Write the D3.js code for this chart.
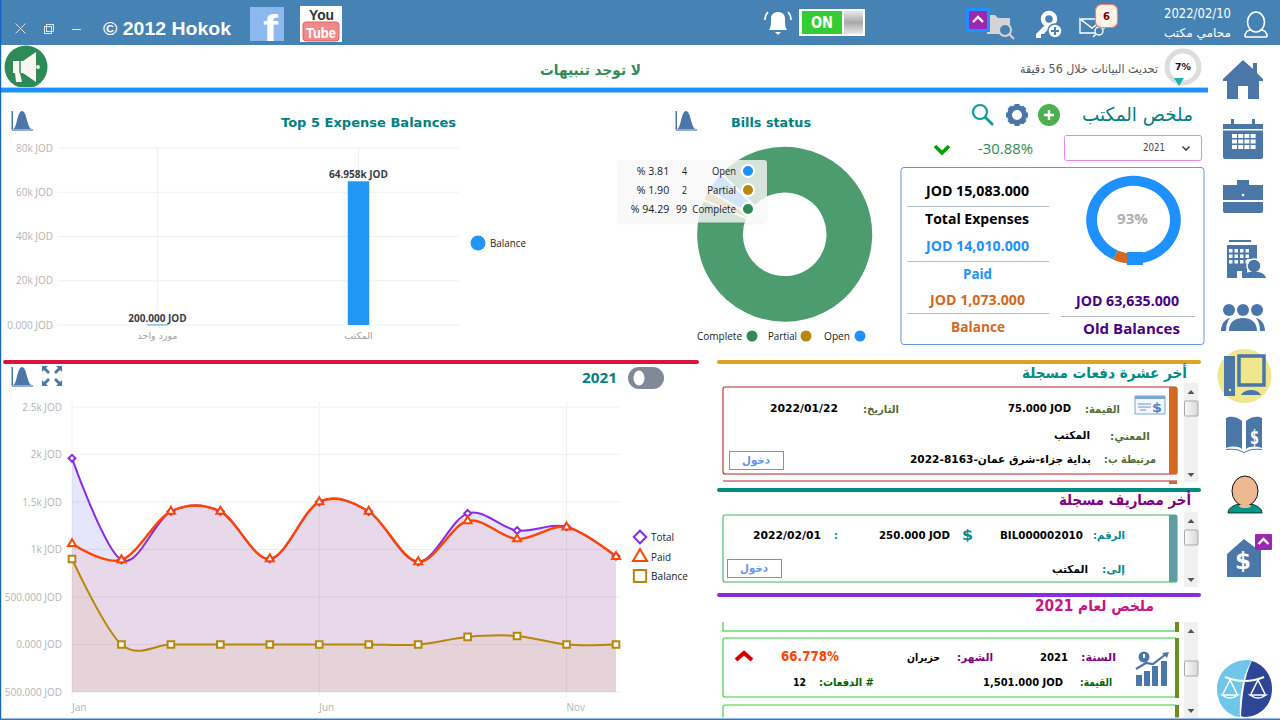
<!DOCTYPE html>
<html><head><meta charset="utf-8">
<script src="https://cdn.jsdelivr.net/npm/d3@7"></script>
<style>html,body{margin:0;padding:0;background:#fff;overflow:hidden}svg{display:block}text{font-family:"DejaVu Sans",sans-serif}</style>
</head><body><svg id="c" width="1280" height="720"></svg>
<script>
// ---------- data ----------
const barCategories = ["مورد واحد", "المكتب"];
const barValues = [200, 64958];
const barValueLabels = ["200.000 JOD", "64.958k JOD"];
const barTicks = [0, 20000, 40000, 60000, 80000];
const barTickLabels = ["0.000 JOD", "20k JOD", "40k JOD", "60k JOD", "80k JOD"];

const billNames = ["Complete", "Partial", "Open"];
const billCounts = [99, 2, 4];
const billPercents = ["% 94.29", "% 1.90", "% 3.81"];
const billColors = ["#2e8b57", "#b8860b", "#1e90ff"];

const months = ["Jan","Feb","Mar","Apr","May","Jun","Jul","Aug","Sep","Oct","Nov","Dec"];
const monthTicks = ["Jan","Jun","Nov"];
const totalSeries = [1960, 890, 1400, 1400, 900, 1501, 1400, 870, 1380, 1200, 1240, 930];
const paidSeries = [1060, 890, 1400, 1400, 900, 1500, 1400, 870, 1300, 1110, 1235, 925];
const balanceSeries = [900, 0, 0, 0, 0, 0, 0, 0, 80, 90, 0, 0];
const areaTicks = [-500, 0, 500, 1000, 1500, 2000, 2500];
const areaTickLabels = ["500.000 JOD", "0.000 JOD", "500.000 JOD", "1k JOD", "1.5k JOD", "2k JOD", "2.5k JOD"];

const ringValues = [14010, 1073];

// ---------- helpers ----------
const svg = d3.select("#c");
const ICON = "#4a76a8", TEAL = "#008080";
function T(txt, x0, x1, base, size, color, weight, font, rtl){
  const t = svg.append("text").text(txt).attr("x",(x0+x1)/2).attr("y",base)
    .attr("text-anchor","middle").attr("font-size",size).attr("fill",color)
    .attr("font-weight",weight||"normal")
    .attr("textLength",x1-x0).attr("lengthAdjust","spacingAndGlyphs");
  if(font) t.style("font-family",font);
  if(rtl) t.attr("direction","rtl");
  return t;
}
const A = (txt,x0,x1,base,size,color,weight)=>T(txt,x0,x1,base,size,color,weight,null,true);
function G(x,y){return svg.append("g").attr("transform",`translate(${x},${y})`);}
function P(g,d,fill,extra){const p=g.append("path").attr("d",d).attr("fill",fill||"none");if(extra)for(const k in extra)p.attr(k,extra[k]);return p;}
function R(x,y,w,h,fill,stroke,rx,sw){return svg.append("rect").attr("x",x).attr("y",y).attr("width",w).attr("height",h).attr("fill",fill||"none").attr("stroke",stroke||"none").attr("rx",rx||0).attr("stroke-width",sw||1);}
function L(x1,y1,x2,y2,c,w){return svg.append("line").attr("x1",x1).attr("y1",y1).attr("x2",x2).attr("y2",y2).attr("stroke",c).attr("stroke-width",w||1);}
function bellIcon(x,y){const g=G(x,y);P(g,"M-10,10H11","none",{stroke:ICON,"stroke-width":1.2});P(g,"M-10.5,10V-9H-9V9Z",ICON);P(g,"M-9,9C-5,9,-5,-9,0,-9C5,-9,5,9,10,9Z",ICON);}

// ---------- top bar ----------
R(0,0,1280,45,"#4682b4");
L(15.5,23.5,25.5,33.5,"#fff",.8);L(25.5,23.5,15.5,33.5,"#fff",.8);
R(44.5,26.5,7,7,"none","#fff",0,.8);R(46.5,24.5,7,7,"none","#fff",0,.8);
L(72,29.5,81,29.5,"#fff",.8);
T("© 2012 Hokok",103,231,35,19,"#fff","bold","'Liberation Sans'");
R(250,7,34,34,"#8cb8f0");
T("f",263,278,41,36,"#fff","bold","'Liberation Sans'");
R(300,6,42,36,"#fff");
T("You",309,334,20,14,"#333","bold","'Liberation Sans'");
R(303,22,36,19,"#f08a8a","#e06060",3);
T("Tube",306,336,38,15,"#fff","bold","'Liberation Sans'");
// bell
{const g=G(778,22);P(g,"M-9,8C-7,5,-7,2,-7,-3C-7,-8,-4,-10,0,-10C4,-10,7,-8,7,-3C7,2,7,5,9,8Z","#fff");P(g,"M-3,10H3L0,13Z","#fff");
 P(g,"M-10,-10C-13,-7,-13,-4,-13,-2","none",{stroke:"#fff","stroke-width":1.6});P(g,"M10,-10C13,-7,13,-4,13,-2","none",{stroke:"#fff","stroke-width":1.6});}
// toggle ON
R(799,9,66,27,"#fff");R(802,11,40,23,"#32cd32");
T("ON",811,833,28,15,"#fff","bold");
const gr=svg.append("defs").append("linearGradient").attr("id","tg").attr("x1",0).attr("x2",0).attr("y1",0).attr("y2",1);
gr.append("stop").attr("offset",0).attr("stop-color","#e8e8e8");gr.append("stop").attr("offset",.5).attr("stop-color","#a8a8a8");gr.append("stop").attr("offset",1).attr("stop-color","#e8e8e8");
R(844,11,19,23,"url(#tg)");
// folder
{const g=G(987,12);P(g,"M0,3H8L11,6H23V22H0Z","#d4d4d4");g.append("circle").attr("cx",18).attr("cy",18).attr("r",6).attr("fill","#4682b4").attr("stroke","#d4d4d4").attr("stroke-width",2);P(g,"M22,22L27,27","none",{stroke:"#d4d4d4","stroke-width":2});}
R(966,8,24,24,"#1e90ff");R(969,11,18,18,"#9c27b0");
P(G(978,20),"M-5,2L0,-3L5,2","none",{stroke:"#fff","stroke-width":2.4});
// key
{const g=G(1046,25);g.append("circle").attr("cx",3).attr("cy",-6).attr("r",6).attr("fill","none").attr("stroke","#fff").attr("stroke-width",4.5);P(g,"M0,-1L-10,9V13H-5V9H-2L3,3Z","#fff");g.append("circle").attr("cx",9).attr("cy",6).attr("r",7).attr("fill","#fff").attr("stroke","#4682b4").attr("stroke-width",1.5);P(g,"M5,6H13M9,2V10","none",{stroke:"#4682b4","stroke-width":2});}
// mail
{const g=G(1080,19);P(g,"M0,0H24V10M15,14H0V0L12,9L24,0","none",{stroke:"#fff","stroke-width":1.4});g.append("circle").attr("cx",19).attr("cy",12).attr("r",4).attr("fill","none").attr("stroke","#fff").attr("stroke-width",1.4);P(g,"M16,15L13,18","none",{stroke:"#fff","stroke-width":1.4});}
R(1095.5,4.5,22,23,"#fff3e6","#f08070",6,1.2);
T("6",1103,1110,20,11,"#7a0000","bold");
T("2022/02/10",1164,1231,18,13.5,"#fff");
A("محامي مكتب",1164,1231,37,12,"#fff");
// user
{const g=G(1256,30);g.append("ellipse").attr("cy",-8).attr("rx",8.5).attr("ry",10).attr("fill","none").attr("stroke","#fff").attr("stroke-width",1.6);P(g,"M-11,7C-11,2,-8,0,-5,0M11,7C11,2,8,0,5,0M-11,7H11","none",{stroke:"#fff","stroke-width":1.6});}

// ---------- notification row ----------
svg.append("circle").attr("cx",26).attr("cy",67).attr("r",21.5).attr("fill","#2e8b57");
{const g=G(26,67);P(g,"M-13,-6H-3L10,-15V15L-3,6H-6L-4,15H-10L-11,6H-13Z","#faf8f0");P(g,"M-6,-6V6","none",{stroke:"#2e8b57","stroke-width":1.5});g.append("circle").attr("cx",12).attr("r",2).attr("fill","#faf8f0");}
A("لا توجد تنبيهات",540,641,75,14.5,"#2e8b57","bold");
A("تحديث البيانات خلال 56 دقيقة",1020,1158,73,12,"#555");
svg.append("circle").attr("cx",1183).attr("cy",67).attr("r",16).attr("fill","#fff").attr("stroke","#ddd").attr("stroke-width",5);
T("7%",1175,1191,70,9,"#111","bold");
P(G(1179,81),"M-5,-3H5L0,5Z","#20b2aa");
R(1,87,1207,1,"#c8c8c8");
R(1,88,1207,4.5,"#1e90ff");

// ---------- bar chart ----------
bellIcon(22,120);
T("Top 5 Expense Balances",281,456,127,13,TEAL,"bold");
const bx = d3.scaleBand().domain(barCategories).range([57,459]);
const by = d3.scaleLinear().domain([0,80000]).range([325,148]);
const gridC="#f0f0f0";
svg.append("g").selectAll("line").data(barTicks).join("line").attr("x1",58).attr("x2",459).attr("y1",d=>by(d)).attr("y2",d=>by(d)).attr("stroke",gridC).attr("stroke-width",1);
svg.append("g").selectAll("line").data(barCategories).join("line").attr("x1",d=>bx(d)+bx.bandwidth()/2).attr("x2",d=>bx(d)+bx.bandwidth()/2).attr("y1",148).attr("y2",325).attr("stroke",gridC);
const barAxis = svg.append("g").attr("transform","translate(56,0)").call(d3.axisLeft(by).tickValues(barTicks).tickSize(0).tickFormat((d,i)=>barTickLabels[i]));
barAxis.select(".domain").remove();
barAxis.selectAll("text").attr("fill","#b4b4b4").attr("font-size",10).style("font-family","'Open Sans'");
const barW=21.5;
svg.append("g").selectAll("rect").data(barValues).join("rect")
  .attr("x",(d,i)=>bx(barCategories[i])+bx.bandwidth()/2-barW/2).attr("width",barW)
  .attr("y",d=>by(d)).attr("height",d=>Math.max(by(0)-by(d),.8)).attr("fill","#2196f3");
svg.append("g").selectAll("text").data(barValueLabels).join("text").text(d=>d)
  .attr("x",(d,i)=>bx(barCategories[i])+bx.bandwidth()/2).attr("y",(d,i)=>by(barValues[i])-3)
  .attr("text-anchor","middle").attr("font-size",10).attr("font-weight","bold").attr("fill","#373d3f").style("font-family","'Open Sans'");
svg.append("g").selectAll("text").data(barCategories).join("text").text(d=>d)
  .attr("x",d=>bx(d)+bx.bandwidth()/2).attr("y",339).attr("direction","rtl")
  .attr("text-anchor","middle").attr("font-size",9.5).attr("fill","#a0a0a0");
svg.append("circle").attr("cx",478).attr("cy",243).attr("r",7.5).attr("fill","#2196f3");
T("Balance",490,526,247,11,"#222","normal","'Open Sans'");

// ---------- donut ----------
bellIcon(686,120);
T("Bills status",731,811,127,13,TEAL,"bold");
const startA = -46.5*Math.PI/180;
const pie = d3.pie().sort(null).startAngle(startA).endAngle(startA+2*Math.PI);
const arc = d3.arc().innerRadius(40.8).outerRadius(88.5);
G(784.7,234.3).selectAll("path").data(pie(billCounts)).join("path").attr("d",arc)
  .attr("fill",(d,i)=>billColors[i]).attr("fill-opacity",.85).attr("stroke","#fff").attr("stroke-width",2);
// tooltip
const shadow=svg.select("defs").append("filter").attr("id","sh").attr("x","-5%").attr("y","-5%").attr("width","110%").attr("height","115%");
shadow.append("feDropShadow").attr("dx",0).attr("dy",1).attr("stdDeviation",1).attr("flood-color","#000").attr("flood-opacity",.08);
R(618,160,149,62.5,"#f8f8f8",null,3).attr("opacity",.8).attr("filter","url(#sh)");
[[2,712,682,636.7],[1,707.3,682,636.7],[0,692.3,676,630.7]].forEach(([k,a,c,p],i)=>{
  const y=171+19*i;
  svg.append("circle").attr("cx",748).attr("cy",y).attr("r",6).attr("fill",billColors[k]).attr("stroke","#fff").attr("stroke-width",2);
  T(billNames[k],a,736,y+4,11,"#222","normal","'Open Sans'");
  T(String(billCounts[k]),c,687,y+4,11,"#222","normal","'Open Sans'");
  T(billPercents[k],p,669.3,y+4,11,"#222","normal","'Open Sans'");
});
[[0,697,742,752],[1,768,797,806],[2,824,850,860]].forEach(([k,a,b,c])=>{
  T(billNames[k],a,b,340,10.5,"#222","normal","'Open Sans'");
  svg.append("circle").attr("cx",c).attr("cy",336).attr("r",5.5).attr("fill",billColors[k]);
});

// ---------- office summary ----------
A("ملخص المكتب",1082,1193,121,19,TEAL,"normal");
{const g=G(983,115);g.append("circle").attr("cx",-3).attr("cy",-3).attr("r",7).attr("fill","none").attr("stroke","#0f9a9a").attr("stroke-width",2.2);P(g,"M2,2L10,10","none",{stroke:"#0f9a9a","stroke-width":2.6});}
{const g=G(1017,115);g.append("circle").attr("r",7.5).attr("fill","none").attr("stroke",ICON).attr("stroke-width",5);
 g.append("g").selectAll("rect").data(d3.range(8)).join("rect").attr("x",-2.5).attr("y",-11).attr("width",5).attr("height",4).attr("fill",ICON).attr("transform",d=>`rotate(${d*45})`);}
svg.append("circle").attr("cx",1049).attr("cy",115).attr("r",11).attr("fill","#4caf50");
P(G(1049,115),"M-5,0H5M0,-5V5","none",{stroke:"#fff","stroke-width":2.4});
R(1064.5,135.5,137,25,"#fff","#ee82ee",2);
T("2021",1143,1165,151,10.5,"#444");
P(G(1186,148),"M-3.5,-1.5L0,2L3.5,-1.5","none",{stroke:"#445","stroke-width":1.6});
T("-30.88%",978,1033,154,14,"#2e8b57","normal","'Open Sans'");
P(G(942,149),"M-7,-3L0,4L7,-3","none",{stroke:"#00a000","stroke-width":3.6});
R(901,167.5,303,177,"#fff","#6495ed",3);
const sm=[["JOD 15,083.000",926,1029,196,"#000",14],["Total Expenses",925,1029,224,"#000",15],["JOD 14,010.000",926,1029,251,"#1e90ff",14],["Paid",963,992,279,"#1e90ff",15],["JOD 1,073.000",930,1025,305,"#d2691e",14],["Balance",951,1005,332,"#d2691e",15],["JOD 63,635.000",1076,1179,306,"#4b0082",14],["Old Balances",1083,1180,334,"#4b0082",15]];
sm.forEach(s=>T(s[0],s[1],s[2],s[3],s[5],s[4],"bold","'Open Sans'"));
L(907,206.5,1049,206.5,"#b4bcc8");L(907,261.5,1049,261.5,"#b4bcc8");L(907,313.5,1049,313.5,"#b4bcc8");L(1061,316.5,1195,316.5,"#b4bcc8");
// ring
const ringPie=d3.pie().sort(null).startAngle(Math.PI).endAngle(-Math.PI);
const ringArc=d3.arc().innerRadius(36.5).outerRadius(47.3);
const ringG=svg.append("g").attr("transform","translate(1133.5,219.8) scale(1,.93)");
ringG.selectAll("path").data(ringPie(ringValues)).join("path").attr("d",ringArc).attr("fill",(d,i)=>["#1e90ff","#d2691e"][i]);
R(1127,252,16,13,"#1e90ff");
T("93%",1117,1148,224,14,"#b0b0b0","bold","'Open Sans'");

// ---------- area chart ----------
R(3,360,696,4,"#dc143c",null,2);
bellIcon(22,376);
{const g=G(52,376);["0","90","180","270"].forEach(r=>{P(g.append("g").attr("transform",`rotate(${r})`),"M-10,-10H-4L-6,-8L-2,-4L-4,-2L-8,-6L-10,-4Z",ICON);});}
T("2021",582,617,383,14,TEAL,"bold","'Open Sans'");
R(628,367,36,22,"#808a96",null,11);
svg.append("ellipse").attr("cx",639).attr("cy",378).attr("rx",5.5).attr("ry",7.5).attr("fill","#fff");
const ax=d3.scalePoint().domain(months).range([72,616]);
const ay=d3.scaleLinear().domain([-500,2500]).range([692,407]);
svg.append("g").selectAll("line").data(areaTicks).join("line").attr("x1",72).attr("x2",620).attr("y1",d=>ay(d)).attr("y2",d=>ay(d)).attr("stroke","#f0f0f0");
svg.append("g").selectAll("line").data(monthTicks).join("line").attr("x1",d=>ax(d)).attr("x2",d=>ax(d)).attr("y1",402).attr("y2",697).attr("stroke","#f0f0f0");
const aAxis=svg.append("g").attr("transform","translate(65,0)").call(d3.axisLeft(ay).tickValues(areaTicks).tickSize(0).tickFormat((d,i)=>areaTickLabels[i]));
aAxis.select(".domain").remove();
aAxis.selectAll("text").attr("fill","#b4b4b4").attr("font-size",10).style("font-family","'Open Sans'");
svg.append("g").selectAll("text").data(monthTicks).join("text").text(d=>d).attr("x",d=>ax(d)).attr("y",711).attr("font-size",10).attr("fill","#b4b4b4").style("font-family","'Open Sans'");
const curve=d3.curveCardinal.tension(0);
const series=[
 {v:totalSeries,c:"#8a2be2",f:"#0000e6",o:.1,w:2,s:d3.symbolDiamond2,z:30},
 {v:paidSeries,c:"#ff4500",f:"#ff4500",o:.075,w:2.4,s:d3.symbolTriangle,z:28},
 {v:balanceSeries,c:"#b8860b",f:"#e08a00",o:.065,w:2,s:d3.symbolSquare,z:44}];
series.forEach(S=>{
  svg.append("path").datum(S.v).attr("fill",S.f).attr("fill-opacity",S.o).attr("d",d3.area().curve(curve).x((d,i)=>ax(months[i])).y0(ay(-500)).y1(d=>ay(d)));
});
series.forEach(S=>{
  svg.append("path").datum(S.v).attr("fill","none").attr("stroke",S.c).attr("stroke-width",S.w).attr("d",d3.line().curve(curve).x((d,i)=>ax(months[i])).y(d=>ay(d)));
});
series.forEach(S=>{
  svg.append("g").selectAll("path").data(S.v).join("path")
   .attr("d",d3.symbol().type(S.s).size(S.z))
   .attr("transform",(d,i)=>`translate(${ax(months[i])},${ay(d)})`)
   .attr("fill","#fff").attr("stroke",S.c).attr("stroke-width",2);
});
[["Total",537,d3.symbolDiamond2,"#8a2be2",100,650,674],["Paid",557,d3.symbolTriangle,"#ff4500",85,650,671],["Balance",576,d3.symbolSquare,"#b8860b",150,650,688]].forEach(([n,y,s,c,z,a,b])=>{
  svg.append("path").attr("d",d3.symbol().type(s).size(z)).attr("transform",`translate(640,${y})`).attr("fill","#fff").attr("stroke",c).attr("stroke-width",2);
  T(n,a+1,b,y+4,11,"#222","normal","'Open Sans'");
});

// ---------- right panels ----------
function scroll(x,y0,y1,ty,th){
  R(x,y0,14,y1-y0,"#f0f0f0");
  const d=svg.append("defs").append("linearGradient").attr("id","sb"+y0);
  d.append("stop").attr("offset",0).attr("stop-color","#fafafa");d.append("stop").attr("offset",1).attr("stop-color","#d8d8d8");
  R(x+.5,ty,13.5,th,`url(#sb${y0})`,"#a8a8a8",1);
  P(G(x+7,y0+9),"M-3.5,2H3.5L0,-2Z","#555");
  P(G(x+7,y1-7),"M-3.5,-2H3.5L0,2Z","#555");
}
function btn(x,y){R(x+.5,y+.5,54,18,"#fff","#6495ed",0,1);A("دخول",x+13,x+41,y+13,11,"#6495ed","bold");}
const lab=(t,a,b,y,c)=>A(t,a,b,y,11,c,"bold");
const val=(t,a,b,y)=>T(t,a,b,y,11,"#000","bold");
R(717,360,484,4,"#daa520",null,2);
A("أخر عشرة دفعات مسجلة",1022,1187,378,15,"#008b8b","bold");
R(723,387,454,87,"#fff","#c02020",2,1.1);
R(1169,387,8,87,"#d2691e");
scroll(1184,383,482,401,15);
L(723,481,1177,481,"#c02020",1.1);R(1169,481,8,3,"#d2691e");
{const g=G(1135,396);P(g,"M0,0H30V18H0Z","#f4f8fd",{stroke:"#7aa7d8","stroke-width":1});R(1135,396,30,3,"#7aa7d8");P(g,"M3,8H16M3,11H16M5,14H11","none",{stroke:"#6a96c8","stroke-width":1});T("$",1152,1162,412,12,"#4a86c8","bold");}
lab("القيمة:",1085,1120,413,"#556b2f");val("75.000 JOD",1008,1071,412);
lab("التاريخ:",863,899,413,"#556b2f");val("2022/01/22",770,838,412);
lab("المعني:",1110,1150,440,"#556b2f");val("المكتب",1054,1090,439).attr("direction","rtl");
lab("مرتبطة ب:",1104,1156,463,"#556b2f");val("بداية جزاء-شرق عمان-8163-2022",910,1091,463).attr("direction","rtl");
btn(729,451);

R(717,488,484,4,"#008b80",null,2);
A("أخر مصاريف مسجلة",1059,1191,505,15,"#800080","bold");
R(723,515,454,67,"#fff","#3cb371",2,1.1);
R(1169,515,8,67,"#5f9ea0");
scroll(1184,512,587,530,15);
lab("الرقم:",1093,1125,539,"#008b8b");val("BIL000002010",1000,1083,539);
T("$",962,973,540,14,"#008b8b","bold");val("250.000 JOD",879,950,539);
T(":",834,838,539,11,"#008b8b","bold");val("2022/02/01",753,821,539);
lab("إلى:",1102,1125,573,"#008b8b");val("المكتب",1052,1088,573).attr("direction","rtl");
btn(727,559);

R(717,593,484,4,"#8a2be2",null,2);
R(723,612,454,19,"#fff","#32cd32",0,1.1);R(720,605,460,17,"#fff");
A("ملخص لعام 2021",1035,1154,611,15,"#c71585","bold");
R(723,638,454,59,"#fff","#32cd32",2,1.1);R(723,705,454,20,"#fff","#32cd32",2,1.1);
[[622,10],[638,60],[705,13]].forEach(([y,h])=>R(1175,y,4,h,"#6b8e23"));
scroll(1184,622,718,661,15);
lab("السنة:",1081,1116,661,"#800080");val("2021",1040,1068,661);
lab("الشهر:",957,993,661,"#800080");val("حزيران",907,940,661).attr("direction","rtl");
T("66.778%",781,839,661,13.5,"#ff4500","bold");
P(G(744,656),"M-8,4L0,-3L8,4","none",{stroke:"#d40000","stroke-width":4});
lab("القيمة:",1080,1112,686,"#006400");val("1,501.000 JOD",983,1063,686);
lab("# الدفعات:",819,874,686,"#006400");val("12",793,806,686);
{const g=G(1152,666);g.append("circle").attr("cx",-8).attr("cy",-9).attr("r",5.5).attr("fill",ICON);P(g,"M-8,-12V-8","none",{stroke:"#fff","stroke-width":2});
 [[-16,6,14],[-8,2,18],[0,-3,23],[9,-8,28]].forEach(b=>g.append("rect").attr("x",b[0]).attr("y",b[1]+3).attr("width",6).attr("height",b[2]-3).attr("fill",ICON));
 P(g,"M-16,3L-6,-3L1,-2L14,-12","none",{stroke:ICON,"stroke-width":2.2});P(g,"M10,-13L17,-14L15,-8Z",ICON);}

// ---------- sidebar ----------
{const g=G(1243,80);P(g,"M-20,-1L0,-20L10,-11V-17H14V-7L20,-1V1H16V19H5V6H-5V19H-16V1H-20Z",ICON);}
{const g=G(1243,139);P(g,"M-20,-15H20V18Q20,20,18,20H-18Q-20,20,-20,18Z",ICON);
 R(1231,119,3,8,ICON);R(1252,119,3,8,ICON);R(1223,129,40,1.5,"#fff");
 d3.range(4).forEach(c=>d3.range(3).forEach(r=>R(1232+c*6.2,134+r*5.5,5,4,"#fff")));}
{const g=G(1243,194);P(g,"M-20,-9H-6V-14H6V-9H20V6H-20Z",ICON);P(g,"M-20,8H20V17Q20,19,18,19H-18Q-20,19,-20,17Z",ICON);g.append("circle").attr("cy",1).attr("r",1.3).attr("fill","#fff");}
{const g=G(1241,260);R(1229,240,22,2,ICON);P(g,"M-14,-15H16V-1H6V18H-14Z",ICON);
 d3.range(4).forEach(c=>d3.range(3).forEach(r=>R(1229+c*5.5,249+r*5.5,3.5,3.5,"#fff")));
 R(1237,271,5,7,"#fff");
 g.append("circle").attr("cx",13).attr("cy",6).attr("r",7).attr("fill",ICON).attr("stroke","#fff").attr("stroke-width",1.5);P(g,"M1,18C3,12,8,12,13,12C18,12,23,12,25,18Z",ICON);}
{const g=G(1243,316);[[-14],[0],[14]].forEach(([x])=>g.append("circle").attr("cx",x).attr("cy",-6).attr("r",6).attr("fill",ICON));
 P(g,"M-22,15C-22,8,-18,3,-13,2C-16,6,-17,10,-17,15ZM22,15C22,8,18,3,13,2C16,6,17,10,17,15ZM-14,15C-14,6,-8,2,0,2C8,2,14,6,14,15Z",ICON);}
svg.append("ellipse").attr("cx",1244.5).attr("cy",376).attr("rx",27).attr("ry",27).attr("fill","#f0e68c");
{R(1224,356,11,40,ICON);svg.append("circle").attr("cx",1230).attr("cy",390).attr("r",1.2).attr("fill","#f0e68c");
 R(1239,356,25,29,"none",ICON,0,3.5);P(G(1251,389),"M-10,6C-8,2,-3,1,0,1C3,1,8,2,10,6Z",ICON);}
{const g=G(1244,434);P(g,"M-2,-13C-8,-18,-14,-18,-18,-16V14C-12,12,-6,12,-2,15Z",ICON);P(g,"M2,-13C8,-18,14,-18,18,-16V14C12,12,6,12,2,15Z",ICON);P(g,"M-18,15C-10,14,-5,15,0,18C5,15,10,14,18,15V16C10,15,5,16,0,19C-5,16,-10,15,-18,16Z",ICON);T("$",1250,1259,444,20,"#fff","bold");}
{const g=G(1245,495);P(g,"M-17,18C-17,13,-11,10,-6,9H6C11,10,17,13,17,18Z","#009688",{stroke:"#111","stroke-width":.8});
 g.append("ellipse").attr("cy",-4).attr("rx",13).attr("ry",15).attr("fill","#eeb991").attr("stroke","#111").attr("stroke-width",1);
 g.append("ellipse").attr("cy",11).attr("rx",6).attr("ry",2).attr("fill","#eeb991");}
{const g=G(1244,556);P(g,"M-17,-2L0,-17L13,-7H17V21H-17Z",ICON);T("$",1235,1251,569,23,"#fff","bold");}
R(1255,534,17,16,"#9c27b0",null,1);P(G(1263.5,542),"M-5,2L0,-3L5,2","none",{stroke:"#fff","stroke-width":2.4});
{const g=G(1245,688);
 P(g,"M-5,29C-18,28,-28,16,-28,1C-28,-15,-15,-28,2,-28C4,-28,6,-28,7,-27C-3,-14,-6,12,-5,29Z","#6ec6e8");
 P(g,"M7,-27C20,-23,27,-12,27,1C27,16,16,29,-1,29L-4,28C-3,10,-1,-12,7,-27Z","#2f4596");
 [[-15,"#fff"],[13,"#fff"]].forEach(([x,c])=>{P(g,`M${x-7},6L${x},-8L${x+7},6M${x-8},7Q${x},13,${x+8},7Z`,"none",{stroke:c,"stroke-width":1.5});});
 P(g,"M-20,-11Q0,-3,19,-11","none",{stroke:"#fff","stroke-width":2});}
// window frame
R(0,0,1.2,720,"#1565c0");
R(718,717.5,470,2.5,"#fff");
R(0,718.5,1280,1.5,"#2a78c8");
</script></body></html>
